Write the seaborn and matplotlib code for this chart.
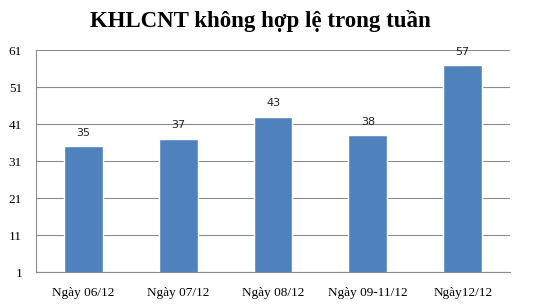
import matplotlib
matplotlib.use("Agg")
import matplotlib.pyplot as plt
import seaborn as sns
import pandas as pd
from matplotlib.ticker import FixedLocator

categories = ["Ngày 06/12", "Ngày 07/12", "Ngày 08/12", "Ngày 09-11/12", "Ngày12/12"]
values = [35, 37, 43, 38, 57]
y_ticks = [1, 11, 21, 31, 41, 51, 61]
title = "KHLCNT không hợp lệ trong tuần"

sns.set_style("white")
df = pd.DataFrame({"cat": categories, "val": values})

fig = plt.figure(figsize=(5.45, 3.07), dpi=100)
ax = fig.add_axes([0.066, 0.114, 0.870, 0.723])
sns.barplot(data=df, x="cat", y="val", color="#4F81BD", saturation=1, width=0.41, ax=ax, zorder=3)

ax.set_ylim(1, 61)
ax.set_xlim(-0.5, len(categories) - 0.5)
ax.set_yticks(y_ticks)
ax.yaxis.grid(True, color="#8c8c8c", linewidth=0.8, zorder=0)
ax.set_axisbelow(True)
for s in ["top", "right"]:
    ax.spines[s].set_visible(False)
for s in ["left", "bottom"]:
    ax.spines[s].set_color("#8c8c8c")
    ax.spines[s].set_linewidth(0.8)

ax.tick_params(axis="y", length=4, color="#8c8c8c", pad=6, labelsize=9.5, labelcolor="black")
ax.tick_params(axis="x", which="major", length=0, pad=10.5, labelsize=9.5, labelcolor="black")
ax.xaxis.set_minor_locator(FixedLocator([i - 0.5 for i in range(len(categories) + 1)]))
ax.tick_params(axis="x", which="minor", length=4, color="#8c8c8c")
for lbl in ax.get_xticklabels() + ax.get_yticklabels():
    lbl.set_fontfamily("Liberation Serif")

ax.set_xlabel("")
ax.set_ylabel("")

for i, v in enumerate(values):
    ax.annotate(str(v), (i, v), xytext=(0, 6), textcoords="offset points",
                ha="center", va="bottom", fontsize=8, family="DejaVu Sans", color="#222222")

fig.text(0.477, 0.932, title, ha="center", va="center", fontsize=16.5,
         fontweight="bold", family="Liberation Serif", color="black")

fig.savefig("out.png", dpi=100)
